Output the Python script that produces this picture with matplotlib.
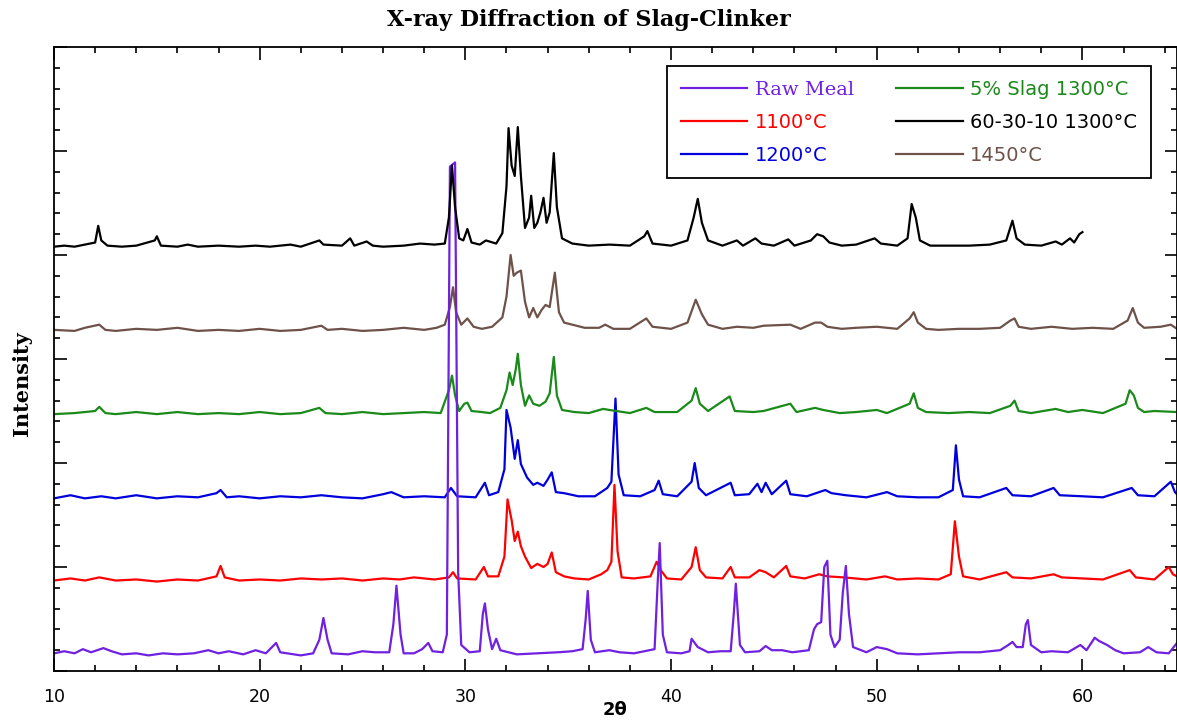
import numpy as np
import matplotlib.pyplot as plt
from matplotlib.ticker import MultipleLocator

# 2-theta positions and intensities (a.u., above each trace's own baseline)
raw_x = [10.0, 10.5, 11.0, 11.4, 11.8, 12.4, 12.8, 13.3, 14.0, 14.6, 15.3, 16.0, 16.8, 17.5, 18.0,
         18.5, 19.2, 19.8, 20.3, 20.8, 21.0, 22.0, 22.6, 22.9, 23.1, 23.3, 23.5, 24.3, 25.0, 25.6,
         26.3, 26.5, 26.65, 26.85, 27.0, 27.5, 27.9, 28.2, 28.4, 28.9, 29.1, 29.25, 29.5, 29.65,
         29.8, 30.2, 30.7, 30.85, 30.95, 31.1, 31.3, 31.5, 31.7, 32.5, 33.5, 34.5, 35.2, 35.7,
         35.85, 35.95, 36.1, 36.3, 37.0, 37.5, 38.2, 39.2, 39.35, 39.45, 39.6, 39.8, 40.5, 40.9,
         41.0, 41.3, 41.8, 42.4, 42.9, 43.05, 43.15, 43.35, 43.6, 44.3, 44.6, 44.9, 45.4, 45.9,
         46.7, 46.95, 47.1, 47.3, 47.45, 47.6, 47.75, 47.95, 48.2, 48.35, 48.5, 48.65, 48.85,
         49.5, 50.0, 50.5, 51.0, 52.0, 53.0, 54.0, 55.0, 56.0, 56.4, 56.6, 56.8, 57.1, 57.25,
         57.35, 57.5, 58.0, 58.5, 59.3, 59.9, 60.2, 60.6, 60.8, 61.2, 61.6, 62.0, 62.8, 63.2,
         63.6, 64.2, 64.6]
raw_y = [2, 4, 2, 6, 3, 7, 4, 1, 2, 0, 2, 1, 2, 5, 2,
         4, 1, 5, 2, 12, 3, 0, 2, 15, 36, 15, 2, 1, 4, 3,
         3, 30, 67, 20, 2, 2, 6, 12, 4, 3, 20, 470, 474, 80,
         10, 3, 4, 40, 50, 25, 6, 16, 5, 1, 2, 3, 4, 6,
         35, 62, 15, 3, 5, 3, 2, 6, 70, 108, 20, 3, 2, 4,
         16, 8, 3, 4, 4, 40, 69, 10, 3, 4, 9, 5, 5, 3,
         5, 25, 30, 32, 85, 91, 20, 8, 15, 60, 86, 40, 8,
         3, 8, 6, 2, 1, 2, 3, 3, 5, 10, 13, 8, 8, 30,
         34, 10, 3, 4, 3, 10, 5, 17, 14, 10, 5, 2, 3, 8,
         3, 2, 12]

c1100_x = [10, 10.8, 11.5, 12.2, 13, 14, 15, 16, 17, 17.9, 18.1, 18.3, 19, 20, 21, 22, 23, 24,
           25, 26, 26.8, 27.5, 28.5, 29.2, 29.4, 29.6, 30.5, 30.9, 31.1, 31.6, 31.9, 32.05,
           32.25, 32.4, 32.55, 32.7, 32.9, 33.2, 33.5, 33.8, 34.0, 34.2, 34.4, 34.8, 35.3, 36.0,
           36.6, 36.9, 37.1, 37.25, 37.4, 37.6, 38.2, 39.0, 39.3, 39.5, 39.8, 40.5, 41.0, 41.2,
           41.4, 41.7, 42.5, 42.9, 43.1, 43.8, 44.3, 44.6, 45.0, 45.6, 45.8, 46.5, 47.2, 47.6,
           48.4, 49.5, 50.4, 51, 52, 53, 53.6, 53.8, 54.0, 54.2, 55, 56.3, 56.6, 57.5, 58.6, 59.0,
           60, 61, 62.3, 62.6, 63.5, 64.2, 64.4, 64.6]
c1100_y = [2, 4, 2, 5, 2, 3, 1, 3, 2, 6, 16, 5, 2, 3, 2, 4, 3, 4,
           2, 4, 3, 5, 3, 5, 10, 4, 3, 15, 6, 6, 25, 80,
           60, 40, 49, 35, 25, 14, 18, 15, 18, 29, 10, 6, 4, 3,
           8, 12, 20, 94, 30, 5, 4, 6, 20, 12, 4, 3, 15, 34,
           12, 5, 4, 15, 5, 5, 12, 10, 5, 16, 6, 4, 8, 6,
           5, 3, 6, 3, 4, 3, 8, 59, 25, 6, 3, 10, 5, 4, 8, 5,
           4, 3, 12, 5, 3, 15, 8, 6]

c1200_x = [10, 10.8, 11.5, 12.3, 13, 14, 15, 16, 17, 17.9, 18.1, 18.4, 19, 20, 21, 22, 23, 24,
           25, 26, 26.4, 27, 28, 29, 29.3, 29.6, 30.5, 30.95, 31.15, 31.6, 31.9, 32.0, 32.2,
           32.4, 32.55, 32.7, 33.0, 33.3, 33.5, 33.8, 34.0, 34.2, 34.4, 34.8, 35.5, 36.3, 36.9,
           37.1, 37.3, 37.45, 37.7, 38.5, 39.2, 39.4, 39.6, 40.3, 41.0, 41.15, 41.35, 41.7, 42.9,
           43.1, 43.8, 44.2, 44.4, 44.6, 44.9, 45.6, 45.8, 46.6, 47.2, 47.5, 47.8, 48.5, 49.5,
           50.5, 51, 52, 53.0, 53.7, 53.85, 54.0, 54.2, 55, 56.3, 56.6, 57.5, 58.6, 58.9, 60, 61,
           62.4, 62.7, 63.5, 64.3, 64.5, 64.6]
c1200_y = [2, 5, 2, 4, 2, 5, 2, 4, 3, 7, 10, 3, 4, 2, 4, 3, 5, 3,
           2, 6, 8, 3, 4, 3, 12, 4, 3, 17, 5, 8, 30, 87, 70,
           40, 58, 35, 22, 15, 17, 14, 20, 27, 8, 7, 4, 4, 12,
           18, 98, 25, 5, 4, 10, 19, 6, 4, 18, 36, 12, 5, 17,
           5, 6, 16, 8, 17, 6, 19, 6, 4, 8, 10, 7, 5, 3,
           8, 4, 3, 3, 10, 53, 20, 4, 3, 12, 5, 4, 12, 5, 4, 3,
           12, 5, 4, 18, 8, 6]

slag_x = [10, 11, 12.0, 12.2, 12.5, 13, 14, 15, 16, 17, 18, 19, 20, 21, 22, 22.9, 23.2, 24, 25,
          26, 27, 28, 28.8, 29.2, 29.35, 29.5, 29.7, 29.95, 30.1, 30.3, 30.8, 31.2, 31.7, 32.0,
          32.15, 32.3, 32.45, 32.55, 32.7, 32.9, 33.1, 33.3, 33.6, 33.9, 34.1, 34.3, 34.45, 34.7,
          35.3, 36.0, 36.7, 37.0, 38.0, 38.8, 39.2, 40.3, 41.0, 41.2, 41.4, 41.8, 42.85, 43.1,
          44.0, 44.5, 45.8, 46.1, 47.0, 47.4, 48.2, 49.0, 50.0, 50.5, 51.6, 51.8, 52.0, 52.4,
          53.5, 54.5, 55.5, 56.5, 56.7, 56.9, 57.5, 58.7, 59.3, 60.0, 61.0, 62.1, 62.3, 62.5,
          62.7, 63.0, 63.5, 64.6]
slag_y = [2, 3, 5, 9, 3, 2, 4, 2, 4, 2, 3, 2, 4, 2, 3, 8, 3, 2, 4,
          2, 3, 4, 3, 25, 39, 20, 5, 12, 13, 5, 4, 3, 8, 25,
          42, 30, 45, 60, 30, 10, 20, 12, 10, 14, 22, 57, 20, 6,
          4, 3, 7, 6, 3, 8, 4, 4, 15, 27, 12, 5, 19, 5,
          4, 5, 12, 4, 8, 6, 3, 4, 6, 3, 12, 22, 8, 4,
          3, 4, 3, 10, 15, 5, 3, 7, 4, 6, 3, 12, 25, 20,
          8, 4, 5, 4]

c1450_x = [10, 11, 11.5, 12.2, 12.5, 13, 14, 15, 16, 17, 18, 19, 20, 21, 22, 23, 23.3, 24, 25,
           26, 27, 28, 28.6, 29.0, 29.25, 29.4, 29.55, 29.8, 30.1, 30.4, 30.8, 31.3, 31.8, 32.0,
           32.2, 32.35, 32.5, 32.7, 32.9, 33.1, 33.3, 33.5, 33.7, 33.9, 34.1, 34.35, 34.55, 34.8,
           35.2, 35.8, 36.5, 36.8, 37.2, 38.0, 38.8, 39.1, 40.0, 40.8, 41.2, 41.5, 41.8, 42.5,
           43.2, 44, 44.5, 45.8, 46.3, 47.0, 47.3, 47.6, 48.3, 49, 50, 51, 51.6, 51.8, 52.0, 52.4,
           53, 54, 55, 56.0, 56.5, 56.7, 56.9, 57.5, 58.5, 59.5, 60.5, 61.5, 62.2, 62.45, 62.7,
           63.0, 63.8, 64.3, 64.6]
c1450_y = [3, 2, 5, 8, 3, 2, 4, 3, 5, 2, 3, 2, 4, 2, 3, 7, 3, 4, 2,
           3, 5, 3, 5, 8, 25, 44, 20, 8, 14, 6, 4, 6, 15, 35,
           75, 55, 58, 60, 30, 15, 24, 15, 22, 27, 25, 58, 20, 10,
           8, 5, 5, 8, 4, 4, 14, 6, 4, 10, 32, 18, 8, 4,
           6, 5, 7, 8, 4, 10, 10, 6, 4, 5, 6, 4, 14, 20, 10, 4,
           3, 4, 4, 5, 12, 14, 6, 4, 6, 4, 5, 4, 12, 24, 10,
           5, 6, 8, 4]

mix_x = [10, 10.5, 11, 11.5, 12.0, 12.15, 12.3, 12.6, 13.3, 14, 14.9, 15.0, 15.2, 16, 16.5, 17,
         18, 19, 19.8, 20.5, 21.5, 22, 22.9, 23.1, 24.0, 24.4, 24.6, 25.2, 25.5, 26.0, 27, 27.8,
         28.5, 29.0, 29.2, 29.35, 29.5, 29.7, 29.9, 30.1, 30.3, 30.7, 31.0, 31.5, 31.8, 32.0,
         32.1, 32.25, 32.4, 32.55, 32.7, 32.9, 33.1, 33.2, 33.35, 33.5, 33.65, 33.8, 33.95, 34.1,
         34.3, 34.45, 34.7, 35.2, 36.0, 37.0, 38.0, 38.7, 38.85, 39.1, 40.0, 40.8, 41.1, 41.3,
         41.5, 41.8, 42.5, 43.2, 43.5, 44.1, 44.4, 45.0, 45.7, 46.0, 46.8, 47.1, 47.4, 47.7,
         48.3, 49.0, 49.9, 50.2, 51.0, 51.5, 51.7, 51.9, 52.1, 52.6, 53.5, 54.5, 55.5, 56.3,
         56.6, 56.8, 57.2, 58.0, 58.7, 59.0, 59.4, 59.6, 59.85, 60.0]
mix_y = [2, 3, 2, 4, 6, 22, 8, 3, 2, 3, 8, 12, 3, 2, 4, 2,
         3, 2, 3, 2, 4, 2, 8, 4, 3, 10, 3, 7, 3, 2, 3, 5,
         4, 5, 30, 80, 40, 10, 8, 19, 6, 4, 8, 5, 15, 60,
         116, 80, 70, 117, 70, 20, 30, 51, 20, 25, 35, 49, 25, 35,
         92, 40, 10, 5, 3, 4, 3, 12, 17, 5, 3, 8, 30, 48,
         25, 8, 3, 8, 3, 10, 5, 3, 9, 3, 8, 14, 12, 6,
         3, 4, 10, 5, 3, 10, 43, 30, 8, 3, 3, 3, 4, 8,
         27, 10, 4, 3, 7, 4, 10, 6, 14, 16]

labels = ['Raw Meal', '1100°C', '1200°C', '5% Slag 1300°C', '60-30-10 1300°C', '1450°C']
colors = ['#7020e0', '#ff0000', '#0000dd', '#1a8a1a', '#000000', '#6e524a']
offsets = [15, 85, 164, 245, 406, 325]

series = [(raw_x, raw_y), (c1100_x, c1100_y), (c1200_x, c1200_y),
          (slag_x, slag_y), (mix_x, mix_y), (c1450_x, c1450_y)]

fig = plt.figure(figsize=(11.77, 7.23), dpi=100)
ax = fig.add_axes([54/1177, 52/723, 1 - 54/1177, 624/723])

lines = {}
# draw order: lower traces first, raw meal over the brown one, black on top
for i in [1, 2, 3, 5, 0, 4]:
    x, y = series[i]
    ln, = ax.plot(x, np.array(y) + offsets[i], color=colors[i], lw=1.6, label=labels[i])
    lines[i] = ln

ax.set_xlim(10, 64.6)
ax.set_ylim(0, 600)
ax.xaxis.set_major_locator(MultipleLocator(10))
ax.xaxis.set_minor_locator(MultipleLocator(2))
ax.yaxis.set_major_locator(MultipleLocator(100))
ax.yaxis.set_minor_locator(MultipleLocator(20))
ax.tick_params(which='both', direction='in', top=True, right=True, width=1.2)
ax.tick_params(which='major', length=9)
ax.tick_params(which='minor', length=4.5)
ax.tick_params(axis='x', labelsize=12.5, pad=12)
ax.tick_params(axis='y', labelleft=False)
for s in ax.spines.values():
    s.set_linewidth(1.3)

fig.text(0.5, 1 - 20/723, 'X-ray Diffraction of Slag-Clinker', ha='center', va='center',
         fontsize=16, fontweight='bold', family='DejaVu Serif')
fig.text(615/1177, 1 - 710/723, '2θ', ha='center', va='center', fontsize=13, fontweight='bold')
fig.text(22/1177, 0.47, 'Intensity', ha='center', va='center', rotation=90,
         fontsize=15, fontweight='bold', family='DejaVu Serif')

handles = [lines[i] for i in range(6)]
leg = fig.legend(handles, labels, ncol=2, loc='upper left',
                 bbox_to_anchor=(667/1177, 1 - 66/723), borderaxespad=0, fontsize=14,
                 handlelength=3.4, handletextpad=0.4, columnspacing=2.2,
                 labelspacing=0.72, borderpad=0.7, fancybox=False, framealpha=1,
                 edgecolor='black', labelcolor='linecolor')
leg.get_frame().set_linewidth(1.3)
leg.get_texts()[0].set_family('DejaVu Serif')

plt.savefig('out.png', dpi=100)
